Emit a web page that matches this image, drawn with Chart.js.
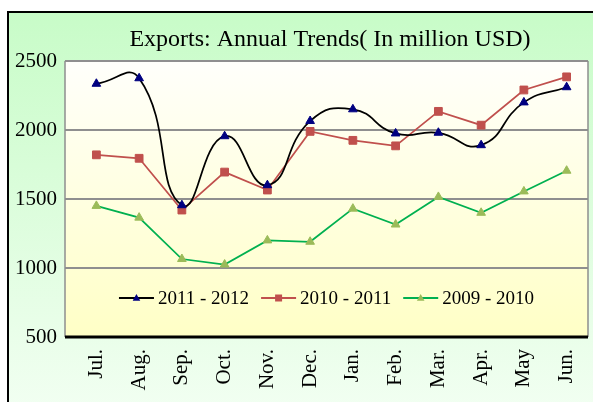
<!DOCTYPE html>
<html>
<head>
<meta charset="utf-8">
<script src="https://cdn.jsdelivr.net/npm/chart.js@4/dist/chart.umd.min.js"></script>
<style>
html, body { margin: 0; padding: 0; width: 593px; height: 402px; overflow: hidden; background: #fff; }
#frame { position: absolute; left: 7px; top: 11px; width: 700px; height: 500px; border: 2px solid #000;
         background: linear-gradient(#c8fcc8, #f8fff8 92%); }
#wrap { position: absolute; left: 0; top: 0; width: 660px; height: 402px; }
</style>
</head>
<body>
<div id="frame"></div>
<div id="wrap"><canvas id="myChart"></canvas></div>
<script>
// data
const months = ['Jul.', 'Aug.', 'Sep.', 'Oct.', 'Nov.', 'Dec.', 'Jan.', 'Feb.', 'Mar.', 'Apr.', 'May', 'Jun.'];
const exports2011 = [2335, 2375, 1455, 1955, 1600, 2065, 2150, 1975, 1980, 1890, 2200, 2310];
const exports2010 = [1820, 1795, 1420, 1695, 1565, 1990, 1925, 1885, 2135, 2035, 2290, 2385];
const exports2009 = [1450, 1365, 1065, 1025, 1200, 1190, 1430, 1315, 1515, 1400, 1555, 1705];
const yTicks = [500, 1000, 1500, 2000, 2500];

const serif = '"Liberation Serif", "Times New Roman", serif';

// plot background, grid lines and frame (starts a bit left of the chart area)
const plotBg = {
    id: 'plotBg',
    beforeDraw(chart) {
        const {ctx, chartArea: a, scales: {y}} = chart;
        const left = a.left - 10;
        ctx.save();
        const g = ctx.createLinearGradient(0, a.top, 0, a.bottom);
        g.addColorStop(0, '#fffffb');
        g.addColorStop(1, '#ffffc6');
        ctx.fillStyle = g;
        ctx.fillRect(left, a.top, a.right - left, a.bottom - a.top);
        ctx.strokeStyle = '#8f8f8f';
        ctx.lineWidth = 2;
        yTicks.forEach(v => {
            const py = Math.round(y.getPixelForValue(v));
            ctx.beginPath();
            ctx.moveTo(left, py);
            ctx.lineTo(a.right, py);
            ctx.stroke();
        });
        ctx.lineWidth = 1.5;
        ctx.beginPath();
        ctx.moveTo(left, a.top);
        ctx.lineTo(left, a.bottom);
        ctx.moveTo(a.right, a.top);
        ctx.lineTo(a.right, a.bottom);
        ctx.stroke();
        ctx.strokeStyle = '#000';
        ctx.lineWidth = 3;
        ctx.beginPath();
        ctx.moveTo(left, a.bottom);
        ctx.lineTo(a.right, a.bottom);
        ctx.stroke();
        ctx.restore();
    }
};

function marker(ctx, style, x, y, r) {
    ctx.beginPath();
    if (style === 'rect') {
        ctx.rect(x - r, y - r, 2 * r, 2 * r);
    } else {
        ctx.moveTo(x, y - r);
        ctx.lineTo(x + r * 0.95, y + r * 0.7);
        ctx.lineTo(x - r * 0.95, y + r * 0.7);
        ctx.closePath();
    }
    ctx.fill();
}

// legend drawn inside the plot, line sample + marker like the original
const innerLegend = {
    id: 'innerLegend',
    afterDraw(chart) {
        const {ctx, chartArea: a} = chart;
        const sets = chart.data.datasets;
        ctx.save();
        ctx.font = '19px ' + serif;
        ctx.textBaseline = 'middle';
        const lineW = 35, gap = 4, space = 12;
        const widths = sets.map(d => ctx.measureText(d.label).width);
        const total = widths.reduce((s, w) => s + lineW + gap + w, 0) + space * (sets.length - 1);
        let x = (a.left - 10 + a.right) / 2 - total / 2;
        const yy = 298;
        sets.forEach((d, i) => {
            ctx.strokeStyle = d.borderColor;
            ctx.lineWidth = 2;
            ctx.beginPath();
            ctx.moveTo(x, yy);
            ctx.lineTo(x + lineW, yy);
            ctx.stroke();
            ctx.fillStyle = d.pointBackgroundColor;
            marker(ctx, d.pointStyle, x + lineW / 2, yy, d.pointStyle === 'rect' ? 3.5 : 4);
            ctx.fillStyle = '#000';
            ctx.fillText(d.label, x + lineW + gap, yy + 1);
            x += lineW + gap + widths[i] + space;
        });
        ctx.restore();
    }
};

const data = {
    labels: months,
    datasets: [{
        label: '2011 - 2012',
        data: exports2011,
        borderColor: '#000000',
        borderWidth: 1.75,
        tension: 0.5,
        pointStyle: 'triangle',
        pointRadius: 5,
        pointBackgroundColor: '#000080',
        pointBorderColor: '#000080',
        pointBorderWidth: 1
    }, {
        label: '2010 - 2011',
        data: exports2010,
        borderColor: '#c0504d',
        borderWidth: 1.75,
        tension: 0,
        pointStyle: 'rect',
        pointRadius: 5.5,
        pointBackgroundColor: '#c0504d',
        pointBorderColor: '#c0504d',
        pointBorderWidth: 1
    }, {
        label: '2009 - 2010',
        data: exports2009,
        borderColor: '#00b050',
        borderWidth: 1.75,
        tension: 0,
        pointStyle: 'triangle',
        pointRadius: 5,
        pointBackgroundColor: '#9bbb59',
        pointBorderColor: '#9bbb59',
        pointBorderWidth: 1
    }]
};

const config = {
    type: 'line',
    data,
    options: {
        responsive: true,
        maintainAspectRatio: false,
        animation: false,
        layout: { padding: 0 },
        plugins: {
            legend: { display: false },
            tooltip: { enabled: false },
            title: {
                display: true,
                text: 'Exports: Annual Trends( In million USD)',
                color: '#000',
                font: { family: serif, size: 24, weight: 'normal' },
                padding: { top: 25, bottom: 7.2 }
            }
        },
        scales: {
            x: {
                type: 'category',
                offset: true,
                grid: { display: false, drawTicks: false },
                border: { display: false },
                ticks: {
                    color: '#000',
                    font: { family: serif, size: 21 },
                    maxRotation: 90,
                    minRotation: 90,
                    padding: 12,
                    autoSkip: false
                },
                afterFit: s => { s.height = 65; }
            },
            y: {
                min: 500,
                max: 2500,
                grid: { display: false, drawTicks: false },
                border: { display: false },
                ticks: {
                    stepSize: 500,
                    color: '#000',
                    font: { family: serif, size: 21 },
                    padding: 18,
                    callback: v => String(v)
                },
                afterFit: s => { s.width = 75; }
            },
            // empty right-hand space so the title stays centred on the whole frame
            yRight: {
                type: 'linear',
                position: 'right',
                grid: { display: false, drawTicks: false },
                border: { display: false },
                ticks: { display: false },
                afterFit: s => { s.width = 72; }
            }
        }
    },
    plugins: [plotBg, innerLegend]
};

let myChart = new Chart('myChart', config);
</script>
</body>
</html>
